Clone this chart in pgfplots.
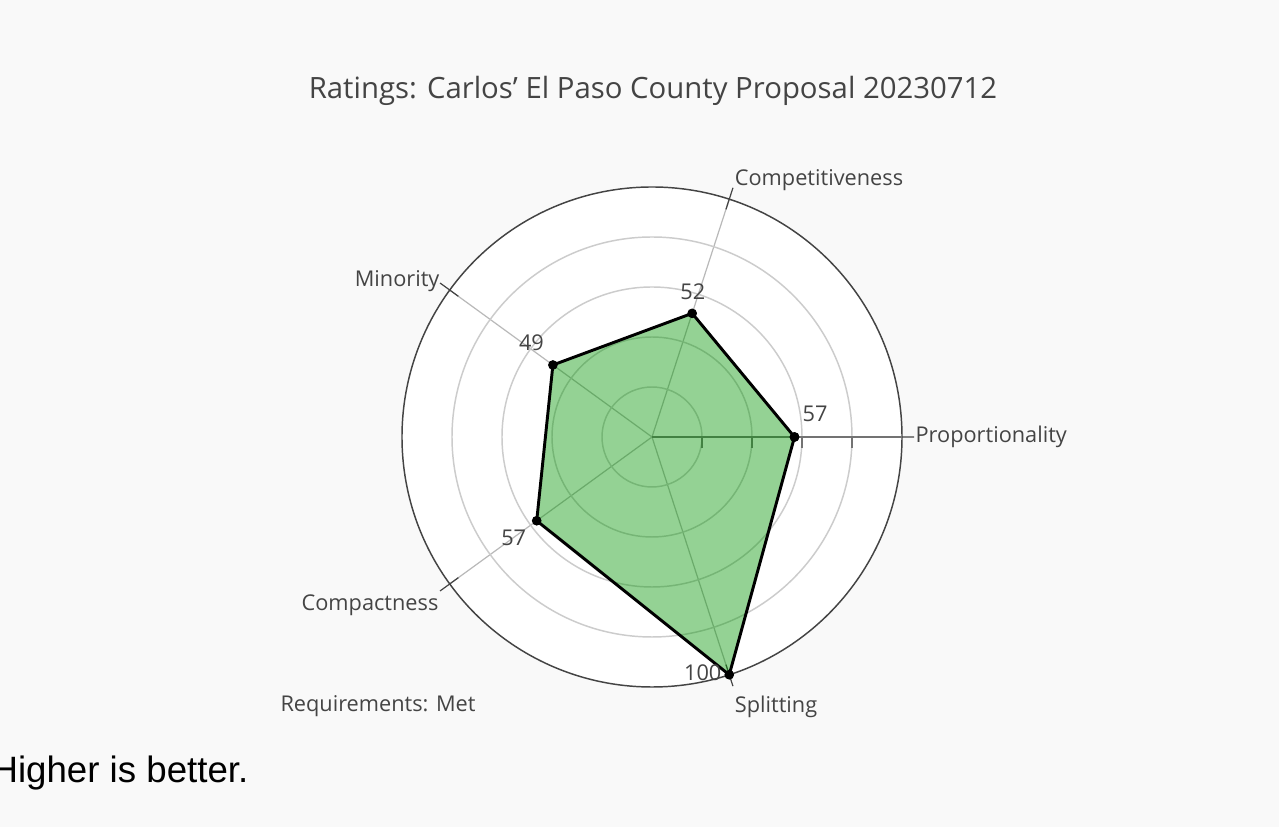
\documentclass[border=0pt]{standalone}
\usepackage{pgfplots}
\pgfplotsset{compat=1.18}
\usepgfplotslibrary{polar}
\usepackage{fontspec}
\setmainfont{Open Sans}
\newfontfamily\arialfont{Liberation Sans}
\definecolor{bg}{RGB}{249,249,249}
\definecolor{txt}{RGB}{68,68,68}
\definecolor{gridc}{RGB}{204,204,204}
\definecolor{spoke}{RGB}{185,185,185}
\definecolor{fillg}{RGB}{0,150,0}

\newcommand\labfont{\fontsize{16.3}{19}\selectfont}
% anchor of an angular label, chosen from its angle
\newcommand\polanc[1]{%
  \ifdim#1pt<36pt west\else
  \ifdim#1pt<108pt south west\else
  \ifdim#1pt<180pt south east\else
  \ifdim#1pt<252pt north east\else
  north west\fi\fi\fi\fi}
\pgfplotsset{
  vallab/.style 2 args={draw=none, mark=none, point meta=explicit symbolic,
    nodes near coords,
    nodes near coords style={txt, anchor=center, font=\labfont, inner sep=0pt,
      xshift=#1, yshift=#2}},
}

\begin{document}
\begin{tikzpicture}
% 1 px of the reference = 0.75pt
\fill[bg] (0pt,0pt) rectangle (959.25pt,620.25pt);
\useasboundingbox (0pt,0pt) rectangle (959.25pt,620.25pt);
\node[txt, font=\fontsize{22}{26}\selectfont] at (489.75pt,552pt) {Ratings: Carlos' El Paso County Proposal 20230712};
\node[txt, font=\labfont] at (283.5pt,90.75pt) {Requirements: Met};
\node[anchor=west, black, font=\arialfont\fontsize{27.5}{32}\selectfont, inner sep=0pt] at (-6.5pt,40.25pt) {Higher is better.};
\begin{polaraxis}[
  at={(489pt,292.5pt)}, anchor=center,
  scale only axis, width=375pt, height=375pt,
  clip=false,
  ymin=0, ymax=100,
  xtick={0,72,144,216,288},
  xticklabels={Proportionality,Competitiveness,Minority,Compactness,Splitting},
  ytick={20,40,60,80}, yticklabels={},
  xmajorgrids, ymajorgrids,
  x grid style={spoke, line width=0.9pt},
  y grid style={gridc, line width=1.1pt},
  x axis line style={txt, line width=1.1pt},
  y axis line style={black!55, line width=1.4pt},
  axis background/.style={fill=white},
  xtick align=outside, ytick align=outside,
  major tick length=8pt,
  xtick style={txt, line width=0.9pt},
  ytick style={black!55, line width=1.1pt},
  tick label style={txt, font=\labfont},
  xticklabel style={anchor=\polanc{\tick}, inner sep=1.5pt,
    xshift={16.5*(\tick<36) + 5*(\tick>36)*(\tick<108) - 12.5*(\tick>108)*(\tick<180)
            - 13.3*(\tick>180)*(\tick<252) + 5*(\tick>252)},
    yshift={12.3*(\tick>36)*(\tick<108) + 1.5*(\tick>108)*(\tick<180)
            - 11.3*(\tick>180)*(\tick<252) - 22*(\tick>252)}},
]
% angular tick marks just outside the outer circle
\addplot[txt, line width=0.9pt, forget plot, unbounded coords=jump]
  coordinates {(0,100) (0,104.8) (0,nan) (72,100) (72,104.8) (72,nan)
               (144,100) (144,104.8) (144,nan) (216,100) (216,104.8) (216,nan)
               (288,100) (288,104.8)};
% ratings: angle (deg), value
\addplot[black, line width=2.2pt, mark=*, mark size=3.2pt,
  mark options={fill=black, fill opacity=1, line width=0.8pt},
  fill=fillg, fill opacity=0.42]
  coordinates {(0,57) (72,52) (144,49) (216,57) (288,100) (360,57)};
\addplot[vallab={15.4pt}{17.6pt}] coordinates {(0,57) [57]};
\addplot[vallab={0.5pt}{16.4pt}] coordinates {(72,52) [52]};
\addplot[vallab={-16.1pt}{16.9pt}] coordinates {(144,49) [49]};
\addplot[vallab={-17.25pt}{-13.1pt}] coordinates {(216,57) [57]};
\addplot[vallab={-19.9pt}{1.9pt}] coordinates {(288,100) [100]};
\end{polaraxis}
\end{tikzpicture}
\end{document}
